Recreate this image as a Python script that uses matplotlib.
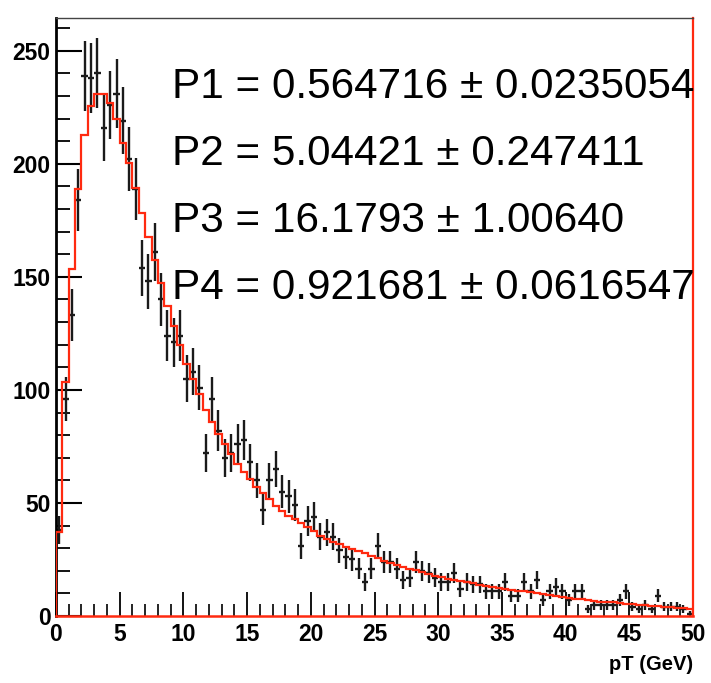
import numpy as np
import matplotlib
matplotlib.use("Agg")
import matplotlib.pyplot as plt
from matplotlib.ticker import MultipleLocator

# ---- data (100 bins, 0-50 GeV) ----
bin_lo = 0.0
bin_hi = 50.0
n_bins = 100

counts = [38, 96, 133, 184, 239, 238, 240, 216, 226, 231,
          219, 202, 189, 154, 148, 161, 140, 124, 121, 124,
          105, 108, 101, 72, 96, 82, 70, 72, 76, 78,
          68, 60, 47, 60, 65, 55, 53, 49, 31, 42,
          44, 35, 37, 35, 29, 26, 25, 21, 15, 21,
          31, 24, 24, 21, 16, 17, 24, 20, 19, 17,
          15, 15, 19, 12, 15, 14, 14, 11, 11, 11,
          15, 9, 9, 15, 11, 16, 7, 11, 13, 11,
          7, 11, 11, 3, 5, 5, 5, 5, 7, 11,
          4, 3, 5, 3, 9, 4, 4, 4, 3, 1]

fit_vals = [37.3, 103.4, 153.4, 188.8, 212.8, 225.7, 231.0, 231.0, 227.0, 219.8,
            209.4, 200.3, 189.5, 178.2, 167.8, 157.5, 147.2, 137.2, 128.3, 119.7,
            111.6, 104.9, 98.2, 91.2, 85.7, 80.5, 76.1, 71.7, 67.4, 63.6,
            60.5, 56.9, 54.3, 51.6, 48.8, 46.5, 44.2, 42.8, 41.0, 39.5,
            37.8, 35.4, 34.2, 32.9, 31.7, 30.7, 29.6, 28.6, 27.7, 26.5,
            25.5, 24.5, 23.6, 22.6, 21.7, 20.9, 20.2, 19.3, 18.6, 17.8,
            17.1, 16.5, 16.0, 15.4, 14.9, 14.4, 13.9, 13.4, 12.9, 12.4,
            12.0, 11.6, 11.2, 10.9, 10.5, 10.2, 9.8, 9.3, 8.9, 8.4,
            8.0, 7.7, 7.4, 7.0, 6.7, 6.4, 6.2, 6.0, 5.8, 5.5,
            5.2, 5.0, 4.8, 4.6, 4.4, 4.2, 4.0, 3.7, 3.4, 3.1]

fit_labels = ["P1 = 0.564716 \u00b1 0.0235054",
              "P2 = 5.04421 \u00b1 0.247411",
              "P3 = 16.1793 \u00b1 1.00640",
              "P4 = 0.921681 \u00b1 0.0616547"]

x_label = "pT (GeV)"

# ---- figure ----
W, H = 711, 683
fig = plt.figure(figsize=(W / 100, H / 100), dpi=100)
ax = fig.add_axes([56 / W, 1 - 616 / H, (693 - 56) / W, (616 - 18) / H])

edges = np.linspace(bin_lo, bin_hi, n_bins + 1)
centers = 0.5 * (edges[:-1] + edges[1:])
counts_a = np.array(counts, dtype=float)
half_w = 0.5 * (edges[1] - edges[0])

red = "#ff2a10"
ax.stairs(fit_vals, edges, baseline=0, color=red, linewidth=1.6, zorder=3)
ax.errorbar(centers, counts_a, yerr=np.sqrt(counts_a), xerr=half_w,
            fmt="none", ecolor="#1a1a1a", elinewidth=1.7, capsize=0, zorder=2)

ax.set_xlim(bin_lo, bin_hi)
ax.set_ylim(0, 264.5)

ax.xaxis.set_major_locator(MultipleLocator(5))
ax.xaxis.set_minor_locator(MultipleLocator(1))
ax.yaxis.set_major_locator(MultipleLocator(50))
ax.yaxis.set_minor_locator(MultipleLocator(10))

ax.tick_params(axis="x", which="major", direction="in", length=17, width=1.3,
               pad=5, top=False)
ax.tick_params(axis="x", which="minor", direction="in", length=9, width=1.2,
               top=False)
ax.tick_params(axis="y", which="major", direction="in", length=19, width=1.5,
               pad=4, right=False)
ax.tick_params(axis="y", which="minor", direction="in", length=10, width=1.3,
               right=False)
for lab in ax.get_xticklabels() + ax.get_yticklabels():
    lab.set_fontfamily("Liberation Sans")
    lab.set_fontweight("bold")
    lab.set_fontsize(16.5)

ax.spines["left"].set_linewidth(2.0)
ax.spines["left"].set_color("black")
ax.spines["bottom"].set_color(red)
ax.spines["bottom"].set_linewidth(1.8)
ax.spines["right"].set_color(red)
ax.spines["right"].set_linewidth(1.6)
ax.spines["top"].set_color("#444444")
ax.spines["top"].set_linewidth(1.0)

fig.text(693 / W, 1 - 665 / H, x_label, ha="right", va="center",
         fontfamily="Liberation Sans", fontweight="bold", fontsize=14.5)

baselines = [98, 165, 232, 299]
for lab, yb in zip(fit_labels, baselines):
    fig.text(172 / W, 1 - yb / H, lab, ha="left", va="baseline",
             fontfamily="Liberation Sans", fontsize=30.4, color="black")

fig.savefig("out.png", dpi=100)
